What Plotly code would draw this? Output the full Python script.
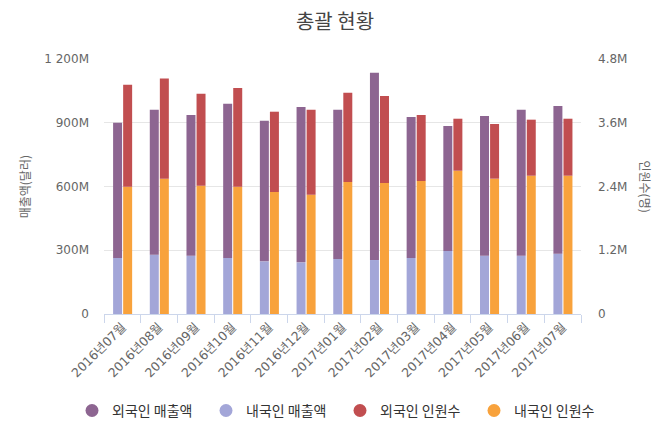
import plotly.graph_objects as go

months = ["2016년07월", "2016년08월", "2016년09월", "2016년10월", "2016년11월", "2016년12월",
          "2017년01월", "2017년02월", "2017년03월", "2017년04월", "2017년05월", "2017년06월", "2017년07월"]

# sales (USD)
domestic_sales = [263.5e6, 279e6, 274e6, 263.5e6, 247.7e6, 243e6, 259e6, 254e6, 263.5e6, 296.5e6, 274e6, 274e6, 283.8e6]
total_sales = [900e6, 961e6, 936.5e6, 989.7e6, 909.7e6, 974e6, 961e6, 1135.6e6, 927e6, 884.7e6, 931.8e6, 961e6, 978.8e6]
foreign_sales = [t - d for t, d in zip(total_sales, domestic_sales)]

# visitors (persons)
domestic_visitors = [2.396e6, 2.547e6, 2.415e6, 2.396e6, 2.296e6, 2.246e6, 2.485e6, 2.466e6, 2.504e6, 2.697e6, 2.547e6, 2.603e6, 2.603e6]
total_visitors = [4.316e6, 4.435e6, 4.147e6, 4.254e6, 3.808e6, 3.846e6, 4.166e6, 4.104e6, 3.746e6, 3.676e6, 3.577e6, 3.658e6, 3.676e6]
foreign_visitors = [t - d for t, d in zip(total_visitors, domestic_visitors)]

left_ticks = [0, 300e6, 600e6, 900e6, 1200e6]
left_text = ["0", "300M", "600M", "900M", "1 200M"]
right_ticks = [0, 1.2e6, 2.4e6, 3.6e6, 4.8e6]
right_text = ["0", "1.2M", "2.4M", "3.6M", "4.8M"]

names = ["외국인 매출액", "내국인 매출액", "외국인 인원수", "내국인 인원수"]
colors = ["#8d6591", "#a3a6d8", "#c14e50", "#f8a23c"]

FONT = "DejaVu Sans, Noto Sans CJK KR"
KFONT = "Noto Sans CJK KR"
W = 0.245

fig = go.Figure()
fig.add_trace(go.Bar(x=months, y=domestic_sales, width=W, offset=-0.252, marker=dict(color=colors[1], line=dict(width=0)),
                     showlegend=False, yaxis="y"))
fig.add_trace(go.Bar(x=months, y=foreign_sales, base=domestic_sales, width=W, offset=-0.252,
                     marker=dict(color=colors[0], line=dict(width=0)), showlegend=False, yaxis="y"))
fig.add_trace(go.Bar(x=months, y=domestic_visitors, width=W, offset=0.022, marker=dict(color=colors[3], line=dict(width=0)),
                     showlegend=False, yaxis="y2"))
fig.add_trace(go.Bar(x=months, y=foreign_visitors, base=domestic_visitors, width=W, offset=0.022,
                     marker=dict(color=colors[2], line=dict(width=0)), showlegend=False, yaxis="y2"))

for n, c in zip(names, colors):
    fig.add_trace(go.Scatter(x=[None], y=[None], mode="markers", name=n,
                             marker=dict(symbol="circle", size=13, color=c)))

fig.update_layout(
    width=670, height=447,
    margin=dict(l=104, r=89, t=59, b=132.5),
    paper_bgcolor="white", plot_bgcolor="white",
    barmode="overlay",
    font=dict(family=FONT, color="#666666", size=12),
    title=dict(text="총괄 현황", x=0.5, xanchor="center", y=1 - 22 / 447, yanchor="middle",
               font=dict(size=20, color="#444444", family=KFONT)),
    xaxis=dict(type="category", tickangle=-45, tickfont=dict(size=12.5, color="#666666", family=FONT),
               showline=True, linecolor="#ccd6eb", ticks="outside", tickson="boundaries",
               ticklen=8, tickcolor="#ccd6eb", showgrid=False, range=[-0.5, 12.5]),
    yaxis=dict(range=[0, 1200e6], tickvals=left_ticks, ticktext=left_text, showgrid=True,
               gridcolor="#e6e6e6", zeroline=False, tickfont=dict(size=12, color="#666666", family=FONT),
               ticks="", ticklabelstandoff=14),
    yaxis2=dict(range=[0, 4.8e6], tickvals=right_ticks, ticktext=right_text, overlaying="y",
                side="right", showgrid=False, zeroline=False, tickfont=dict(size=12, color="#666666", family=FONT),
                ticklabelstandoff=16),
    legend=dict(orientation="h", x=(72 - 104) / 477, xanchor="left", y=-0.38, yanchor="middle",
                font=dict(size=14, color="#333333", family=KFONT), itemwidth=30, tracegroupgap=0,
                entrywidth=89, entrywidthmode="pixels"),
    annotations=[
        dict(text="매출액(달러)", x=-0.166, y=0.5, xref="paper", yref="paper", textangle=-90,
             xanchor="center", yanchor="middle",
             showarrow=False, font=dict(size=12, color="#666666", family=KFONT)),
        dict(text="인원수(명)", x=(645 - 104) / 477, y=0.5, xref="paper", yref="paper", textangle=90,
             xanchor="center", yanchor="middle",
             showarrow=False, font=dict(size=12, color="#666666", family=KFONT)),
    ],
)

fig.write_html("out.html")
